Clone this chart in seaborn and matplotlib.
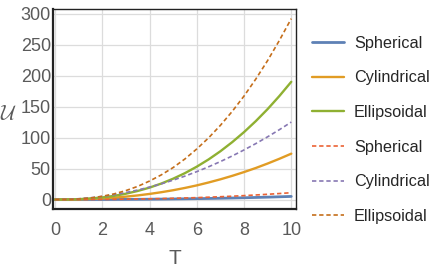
import matplotlib
matplotlib.use("Agg")
import matplotlib.pyplot as plt
import numpy as np
import pandas as pd
import seaborn as sns

# ---- data ----
T = [0, 0.5, 1, 1.5, 2, 2.5, 3, 3.5, 4, 4.5, 5, 5.5, 6, 6.5, 7, 7.5, 8, 8.5, 9, 9.5, 10]

sph_solid = [0, 0, 0.02, 0.04, 0.09, 0.16, 0.25, 0.36, 0.5, 0.68, 0.88, 1.12, 1.39, 1.7, 2.05,
             2.43, 2.86, 3.33, 3.84, 4.4, 5.0]
cyl_solid = [0, 0.08, 0.37, 0.94, 1.83, 3.05, 4.64, 6.62, 9.0, 11.8, 15.0, 18.7, 22.8, 27.5, 32.6,
             38.2, 44.3, 50.9, 58.1, 65.8, 74]
ell_solid = [0, 0.1, 0.6, 1.7, 3.4, 5.9, 9.4, 13.8, 19.2, 25.8, 33.6, 42.6, 53.0, 64.7, 77.9,
             92.6, 108.8, 126.6, 146.0, 167.2, 190]
sph_dash = [0, 0.01, 0.03, 0.1, 0.2, 0.34, 0.54, 0.8, 1.1, 1.5, 1.95, 2.47, 3.07, 3.75, 4.51,
            5.36, 6.3, 7.33, 8.46, 9.68, 11]
cyl_dash = [0, 0.31, 1.25, 2.81, 5, 7.81, 11.25, 15.3, 20, 25.3, 31.25, 37.8, 45, 52.8, 61.25,
            70.3, 80, 90.3, 101.25, 112.8, 125]
ell_dash = [0, 0.2, 0.9, 2.5, 5.2, 9.1, 14.4, 21.2, 29.8, 39.8, 51.6, 65.5, 81.6, 99.5, 119.7,
            142.2, 167, 194.5, 224.4, 257, 292]

labels = ["Spherical", "Cylindrical", "Ellipsoidal"]
x_ticks = [0, 2, 4, 6, 8, 10]
y_ticks = [0, 50, 100, 150, 200, 250, 300]

solid_colors = ["#5E81B5", "#E19C24", "#8FB032"]
dash_colors = ["#EB6235", "#8778B3", "#C56E1A"]

sns.set_style("white")
plt.rcParams["font.family"] = ["Liberation Sans", "DejaVu Sans"]
plt.rcParams["mathtext.fontset"] = "cm"

fig = plt.figure(figsize=(4.36, 2.73), dpi=100)
ax = fig.add_axes([53 / 436, 1 - 209 / 273, (296 - 53) / 436, (209 - 9) / 273])

# grid first
ax.set_axisbelow(True)
ax.grid(True, color="#dcdcdc", lw=0.9)

dash_pattern = (0, (2.6, 1.7))
series_solid = [sph_solid, cyl_solid, ell_solid]
series_dash = [sph_dash, cyl_dash, ell_dash]
widths = [2.0, 1.7, 1.7]
for vals, c, lab, w in zip(series_solid, solid_colors, labels, widths):
    sns.lineplot(x=T, y=vals, ax=ax, color=c, lw=w, label=lab)
for vals, c, lab in zip(series_dash, dash_colors, labels):
    sns.lineplot(x=T, y=vals, ax=ax, color=c, lw=1.2, label=lab, linestyle=dash_pattern)

handles, labs = ax.get_legend_handles_labels()
if ax.get_legend() is not None:
    ax.get_legend().remove()

ax.set_xlim(-0.085, 10.2)
ax.set_ylim(-15.3, 307.5)
ax.set_xticks(x_ticks)
ax.set_yticks(y_ticks)
ax.set_xticks(np.arange(0, 10.01, 0.5), minor=True)
ax.set_yticks(np.arange(-10, 301, 10), minor=True)

tick_col = "#5a5a5a"
ax.tick_params(axis="both", which="major", labelsize=13, colors=tick_col,
               direction="in", length=3, width=0.8)
ax.tick_params(axis="both", which="minor", direction="in", length=1.8, width=0.6,
               colors=tick_col)
ax.tick_params(axis="x", which="major", pad=9.5)
ax.tick_params(axis="y", which="major", pad=1.5)
for lab in ax.get_xticklabels() + ax.get_yticklabels():
    lab.set_color(tick_col)

for side in ["left", "bottom", "top", "right"]:
    ax.spines[side].set_visible(True)
    ax.spines[side].set_color("#222222")
ax.spines["left"].set_linewidth(1.6)
ax.spines["bottom"].set_linewidth(1.6)
ax.spines["top"].set_linewidth(1.0)
ax.spines["right"].set_linewidth(1.0)

ax.set_xlabel("T", fontsize=15, color=tick_col)
ax.xaxis.set_label_coords(0.5, -0.2)
ax.set_ylabel(r"$\mathcal{U}$", fontsize=15, color=tick_col, rotation=0,
              ha="center", va="center")
ax.yaxis.set_label_coords(-0.185, 0.47)

fig.legend(handles, labs, loc="center left", bbox_to_anchor=(0.70, 0.524),
           frameon=False, fontsize=11.7, handlelength=2.0, handletextpad=0.6,
           labelspacing=1.21, borderaxespad=0.0)

fig.savefig("out.png", dpi=100)
